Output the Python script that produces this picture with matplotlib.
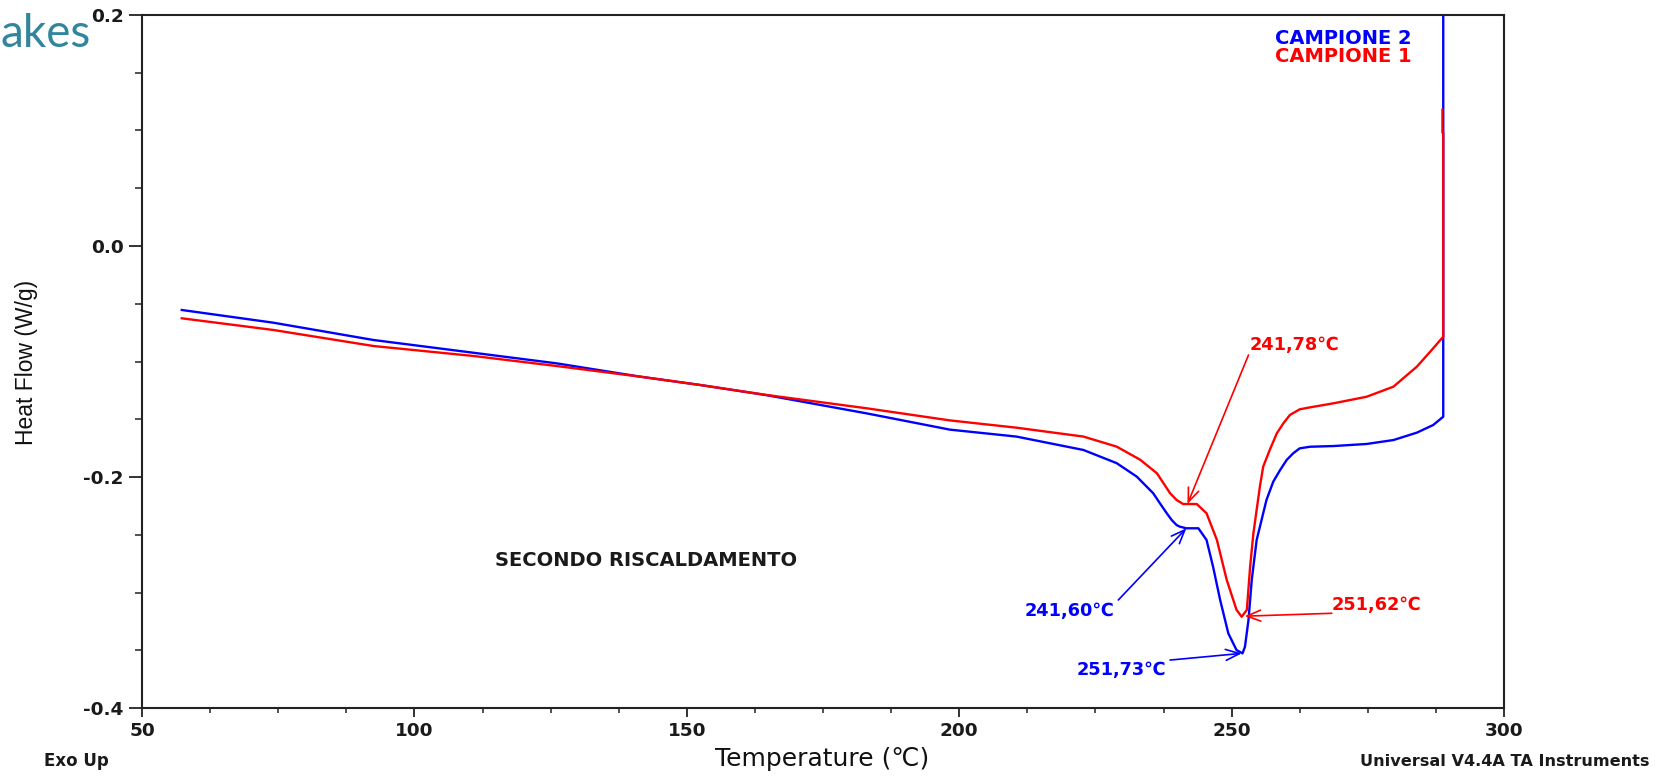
import matplotlib
matplotlib.use("Agg")
import matplotlib.pyplot as plt
from matplotlib.ticker import MultipleLocator, FormatStrFormatter

plt.rcParams['axes.unicode_minus'] = False
plt.rcParams['font.family'] = ['DejaVu Sans']

# ---- data ----
temp_c2 = [57.3, 74.1, 92.5, 110.8, 126.1, 141.4, 152.4, 164.7, 183.0, 198.3,
           210.5, 222.8, 228.9, 232.6, 235.6, 236.85, 238.1, 239.0, 239.9, 240.5,
           241.7, 243.9, 245.4, 246.6, 247.9, 249.4, 250.9, 252.0, 252.45, 253.1,
           253.7, 254.6, 256.4, 257.65, 258.9, 260.1, 261.3, 262.5, 264.4, 268.7,
           274.8, 279.7, 284.0, 287.0, 288.85, 288.85]
hf_c2 = [-0.0554, -0.0664, -0.0814, -0.0924, -0.1016, -0.1131, -0.1203, -0.1292,
         -0.1449, -0.1590, -0.1650, -0.1766, -0.1880, -0.1997, -0.2140, -0.2228,
         -0.2314, -0.2372, -0.2416, -0.2430, -0.2444, -0.2444, -0.2545, -0.2777,
         -0.3065, -0.3354, -0.3498, -0.3527, -0.3470, -0.3238, -0.2890, -0.2545,
         -0.2199, -0.2040, -0.1940, -0.1853, -0.1795, -0.1752, -0.1738, -0.1732,
         -0.1714, -0.1680, -0.1616, -0.1550, -0.1478, 0.25]

temp_c1 = [57.3, 74.1, 92.5, 110.8, 126.1, 141.4, 152.4, 164.7, 183.0, 198.3,
           210.5, 222.8, 228.9, 233.2, 236.3, 238.7, 239.9, 241.1, 243.6, 245.4,
           247.3, 249.1, 250.9, 251.85, 252.8, 253.4, 254.0, 255.2, 255.8, 257.0,
           258.3, 259.5, 260.7, 262.5, 264.4, 268.7, 274.8, 279.7, 284.0, 287.0,
           288.85, 288.85, 288.7, 288.7]
hf_c1 = [-0.0626, -0.0727, -0.0866, -0.0952, -0.1039, -0.1131, -0.1203, -0.1290,
         -0.1405, -0.1510, -0.1573, -0.1650, -0.1737, -0.1850, -0.1968, -0.2140,
         -0.2199, -0.2234, -0.2234, -0.2314, -0.2545, -0.2890, -0.3150, -0.3210,
         -0.3150, -0.2777, -0.2488, -0.2080, -0.1910, -0.1766, -0.1622, -0.1535,
         -0.1463, -0.1414, -0.1397, -0.1362, -0.1305, -0.1218, -0.1045, -0.0886,
         -0.0785, 0.098, 0.098, 0.118]

series_labels = ["CAMPIONE 2", "CAMPIONE 1"]
series_colors = ["#0000FF", "#FF0000"]

# peak annotations: (label, tip x, tip y, tail x, tail y, text x, text y)
peaks_c1 = [("241,78℃", 241.9, -0.2234, 253.1, -0.0944, 253.4, -0.0853),
            ("251,62℃", 252.4, -0.3205, 268.4, -0.3180, 268.4, -0.3108)]
peaks_c2 = [("241,60℃", 241.7, -0.2444, 229.2, -0.3065, 212.1, -0.3156),
            ("251,73℃", 251.85, -0.3527, 238.7, -0.3585, 221.6, -0.3675)]

x_ticks = [50, 100, 150, 200, 250, 300]
y_ticks = [-0.4, -0.2, 0.0, 0.2]

W, H = 1668, 776
fig = plt.figure(figsize=(W / 100, H / 100), dpi=100)
ax = fig.add_axes([142 / W, 1 - 708 / H, (1504 - 142) / W, (708 - 15) / H])

ax.plot(temp_c2, hf_c2, color=series_colors[0], lw=1.7, zorder=3)
ax.plot(temp_c1, hf_c1, color=series_colors[1], lw=1.7, zorder=4)

ax.set_xlim(50, 300)
ax.set_ylim(-0.4, 0.2)
ax.set_xticks(x_ticks)
ax.set_yticks(y_ticks)
ax.xaxis.set_minor_locator(MultipleLocator(12.5))
ax.yaxis.set_minor_locator(MultipleLocator(0.05))
ax.yaxis.set_major_formatter(FormatStrFormatter('%.1f'))

dark = '#222222'
for s in ax.spines.values():
    s.set_linewidth(1.5)
    s.set_color(dark)
ax.tick_params(axis='x', which='major', length=6.7, width=1.3, pad=3.5, color=dark)
ax.tick_params(axis='x', which='minor', length=3.3, width=1.1, color=dark)
ax.tick_params(axis='y', which='major', length=9.1, width=1.3, pad=4.3, color=dark)
ax.tick_params(axis='y', which='minor', length=5.3, width=1.1, color=dark)
for lab in ax.get_xticklabels() + ax.get_yticklabels():
    lab.set_fontsize(13.3)
    lab.set_fontweight('bold')
    lab.set_color('#1a1a1a')

# annotations
def annotate(items, color):
    for lab, tx, ty, sx, sy, lx, ly in items:
        ax.annotate('', xy=(tx, ty), xytext=(sx, sy),
                    arrowprops=dict(arrowstyle='->,head_length=0.55,head_width=0.22',
                                    color=color, lw=1.2, mutation_scale=18,
                                    shrinkA=0, shrinkB=0), zorder=5)
        ax.text(lx, ly, lab, color=color, fontsize=12.8, fontweight='bold',
                ha='left', va='center', zorder=6)

annotate(peaks_c1, series_colors[1])
annotate(peaks_c2, series_colors[0])

ax.text(114.8, -0.2724, "SECONDO RISCALDAMENTO", color='#1a1a1a', fontsize=14,
        fontweight='bold', ha='left', va='center')

# legend-like labels
fig.text(1275 / W, 1 - 38.5 / H, series_labels[0], color=series_colors[0],
         fontsize=14, fontweight='bold', ha='left', va='center')
fig.text(1275 / W, 1 - 56.7 / H, series_labels[1], color=series_colors[1],
         fontsize=14, fontweight='bold', ha='left', va='center')

# axis labels
fig.text(26.7 / W, 1 - 362.5 / H, "Heat Flow (W/g)", rotation=90, fontsize=16.5,
         family=['Liberation Sans', 'DejaVu Sans'], ha='center', va='center', color='#111111')
fig.text(821.7 / W, 1 - 759 / H, "Temperature (℃)", fontsize=18,
         ha='center', va='center', color='#111111')

fig.text(43.6 / W, 1 - 761.4 / H, "Exo Up", fontsize=12, fontweight='bold',
         ha='left', va='center', color='#1a1a1a')
fig.text(1649 / W, 1 - 761 / H, "Universal V4.4A TA Instruments", fontsize=11.6,
         fontweight='bold', ha='right', va='center', color='#1a1a1a')

# partial slide title text at top-left
fig.text(0.0, 1 - 46.7 / H, "akes", fontsize=33, family=['Lato', 'DejaVu Sans'],
         color='#31859C', ha='left', va='baseline')

fig.savefig("out.png", dpi=100)
